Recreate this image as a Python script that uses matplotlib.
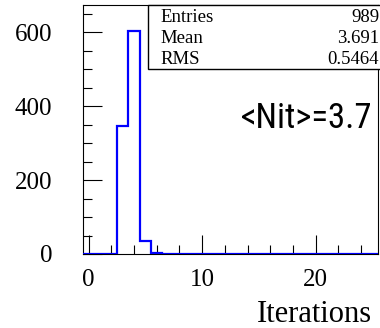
import matplotlib
matplotlib.use("Agg")
import matplotlib.pyplot as plt
from matplotlib import font_manager
from matplotlib.patches import Rectangle
from matplotlib.ticker import MultipleLocator
import numpy as np

# histogram contents (bins centred on integers 0..25)
bin_edges = np.arange(-0.5, 26.0, 1.0)
counts = np.zeros(26)
counts[3] = 347
counts[4] = 604
counts[5] = 34
counts[6] = 4

stat_names = ['Entries', 'Mean', 'RMS']
stat_values = ['989', '3.691', '0.5464']
note = '<Nit>=3.7'

serif = 'Liberation Serif'
sans, note_size = 'Liberation Sans', 22
for cand, sz in [('Liberation Sans Narrow', 26.5), ('Arial Narrow', 26.5),
                 ('Roboto Condensed', 25), ('DejaVu Sans Condensed', 22.5)]:
    try:
        font_manager.findfont(cand, fallback_to_default=False)
        sans, note_size = cand, sz
        break
    except ValueError:
        pass

fig = plt.figure(figsize=(3.8, 3.28), dpi=100)
ax = fig.add_axes([83/380, 74/328, 295/380, 249/328])

ax.stairs(counts, bin_edges, color=(0, 0, 1), linewidth=1.6, zorder=2.6)

ax.set_xlim(-0.5, 25.5)
ax.set_ylim(0, 674)
ax.xaxis.set_major_locator(MultipleLocator(10))
ax.xaxis.set_minor_locator(MultipleLocator(2))
ax.yaxis.set_major_locator(MultipleLocator(200))
ax.yaxis.set_minor_locator(MultipleLocator(50))
ax.tick_params(which='both', direction='in', top=False, right=False, width=0.8, colors='black')
ax.tick_params(which='major', length=14)
ax.tick_params(which='minor', length=6.5)
ax.tick_params(axis='x', which='major', pad=11)
ax.tick_params(axis='y', which='major', pad=22)
for lab in ax.get_xticklabels() + ax.get_yticklabels():
    lab.set_fontfamily(serif)
    lab.set_fontsize(18)
for sp in ax.spines.values():
    sp.set_linewidth(0.8)
    sp.set_color('black')

ax.set_xlabel('Iterations', fontfamily=serif, fontsize=22, ha='right', va='baseline')
ax.xaxis.set_label_coords(0.98, -0.273)

# stats box
box = Rectangle((148.3/380, 259/328), 0.65, 64/328, transform=fig.transFigure,
                facecolor='white', edgecolor='black', linewidth=1.0, zorder=5)
fig.add_artist(box)
rows_y = [0.934, 0.868, 0.805]
for name, val, y in zip(stat_names, stat_values, rows_y):
    fig.text(160.5/380, y, name, fontfamily=serif, fontsize=13.5, va='baseline', ha='left', zorder=6)
    fig.text(0.998, y, val, fontfamily=serif, fontsize=13.5, va='baseline', ha='right', zorder=6)

fig.text(372/380, (328 - 128.3)/328, note, fontfamily=sans, fontsize=note_size,
         ha='right', va='baseline')

fig.savefig('out.png', dpi=100)
